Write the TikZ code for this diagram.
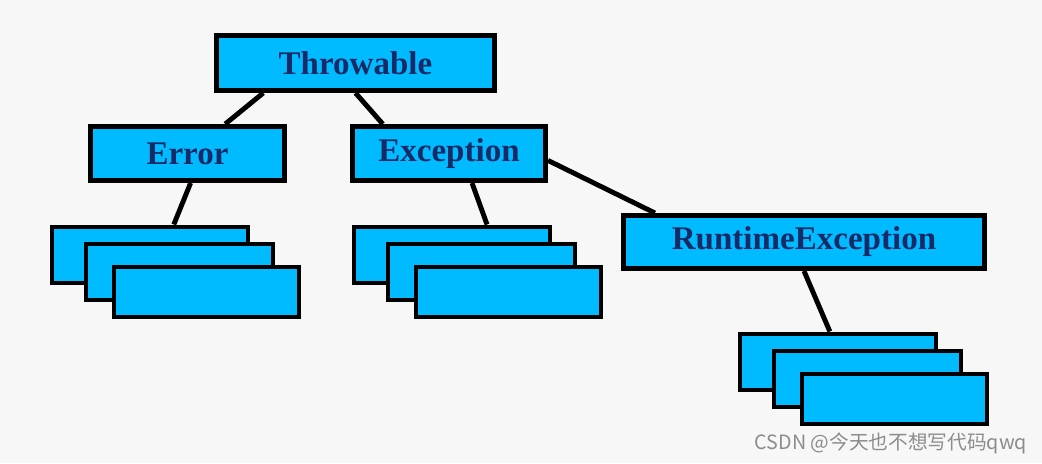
\documentclass[tikz,border=0pt]{standalone}
\usepackage{fontspec}
\setmainfont{Liberation Serif}
\newfontfamily\cjkfont{Noto Sans CJK SC}
\usetikzlibrary{positioning}
\definecolor{boxblue}{RGB}{0,187,255}
\definecolor{textnavy}{RGB}{22,42,104}
\definecolor{bggray}{RGB}{247,247,247}
\definecolor{markgray}{RGB}{140,140,140}

\begin{document}
\begin{tikzpicture}[x=0.025cm, y=-0.025cm] %Throwable hierarchy
            		\tikzstyle{classbox} = [rectangle, draw=black, line width=3.5pt, fill=boxblue, text=textnavy, font=\fontsize{23.5}{26}\selectfont\bfseries, inner sep=0pt]
            		\tikzstyle{subbox} = [rectangle, draw=black, line width=3.5pt, fill=boxblue, inner sep=0pt, anchor=north west]
            		\tikzstyle{link} = [line width=3.5pt]
            		\fill[bggray] (0,0) rectangle (1042,463);
            		\useasboundingbox (0,0) rectangle (1042,463);
            		\node[classbox, minimum width=6.95cm, minimum height=1.375cm] (T) at (355.5,63) {Throwable};
            		\node[classbox, minimum width=4.85cm, minimum height=1.35cm] (E) at (187.5,153.5) {Error};
            		\node[classbox, minimum width=4.825cm, minimum height=1.35cm] (X) at (449,153.5) {Exception};
            		\node[classbox, minimum width=9cm, minimum height=1.325cm] (R) at (804,242) {RuntimeException};
            		% stacked sub classes
            		\foreach \s/\x/\y in {E/49.5/224.5, X/351.5/224.5, R/737.5/331.5}
            		{
                		\foreach \k/\dx/\dy/\w/\h in {1/0/0/4.9cm/1.4cm, 2/34/17/4.675cm/1.4cm, 3/62/40/4.625cm/1.25cm}
                		{
                    		\node[subbox, minimum width=\w, minimum height=\h] (\s\k) at (\x+\dx,\y+\dy) {};
                		}
            		}
            		\draw[link] (T.-162) -- (E.38);
            		\draw[link] (T.south) -- (X.156);
            		\draw[link] (E.-84) -- (E1.52);
            		\draw[link] (X.-52) -- (X1.41);
            		\draw[link] (X.-4) -- (R.169);
            		\draw[link] (R.south) -- (R1.105);
            		\node[anchor=east, text=markgray, font=\cjkfont\fontsize{14}{16}\selectfont] (mark) at (1032,443) {CSDN @今天也不想写代码qwq};
        		\end{tikzpicture}
\end{document}
